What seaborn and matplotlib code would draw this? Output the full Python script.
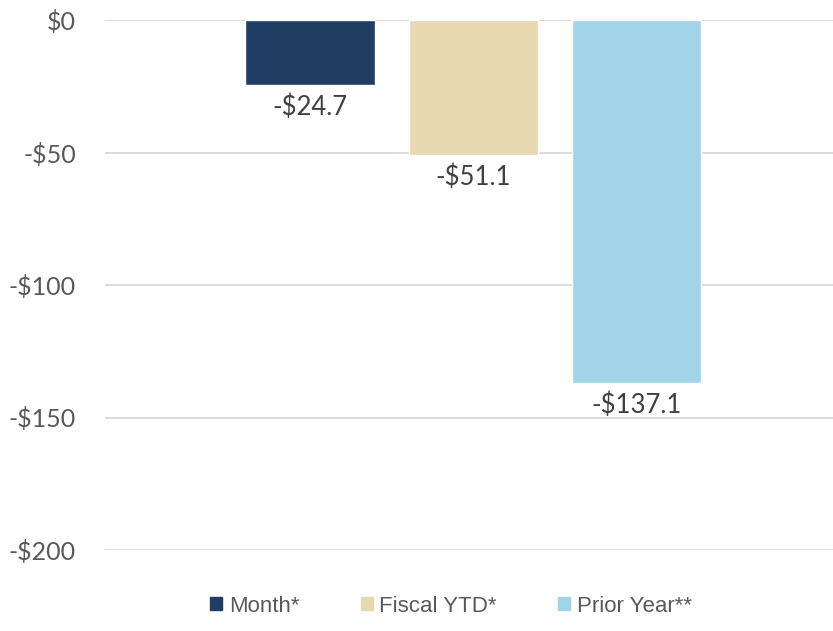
import matplotlib
matplotlib.use("Agg")
import matplotlib.pyplot as plt
import matplotlib.patches as mpatches
import pandas as pd
import seaborn as sns

# series shown as separate bars
labels = ["Month*", "Fiscal YTD*", "Prior Year**"]
values = [-24.7, -51.1, -137.1]
colors = ["#203D63", "#E8D8B0", "#A1D4E8"]
yticks = [0, -50, -100, -150, -200]

df = pd.DataFrame({"series": labels, "value": values})

sns.set_style("white")
plt.rcParams["font.family"] = ["Lato", "DejaVu Sans"]

fig = plt.figure(figsize=(8.33, 6.31), dpi=100)
ax = fig.add_axes([105 / 833, 1 - 550 / 631, 728 / 833, 530 / 631])

sns.barplot(data=df, x="series", y="value", hue="series", palette=colors,
            width=0.79, legend=False, ax=ax, saturation=1)

for i, v in enumerate(values):
    ax.text(i, v - 3.5, "-${:.1f}".format(abs(v)), ha="center", va="top",
            fontsize=18.5, color="#404040")

ax.set_ylim(-200, 0)
ax.set_xlim(-1.254, 3.2)
ax.set_yticks(yticks)
ax.set_yticklabels(["$0" if t == 0 else "-${}".format(abs(t)) for t in yticks])
ax.tick_params(axis="y", labelsize=18, labelcolor="#595959", length=0, pad=21)
ax.set_xticks([])
ax.set_xlabel("")
ax.set_ylabel("")
ax.yaxis.grid(True, color="#D9D9D9", linewidth=1.3)
ax.set_axisbelow(True)
for s in ax.spines.values():
    s.set_visible(False)

handles = [mpatches.Patch(color=c, label=l) for c, l in zip(colors, labels)]
leg = fig.legend(handles=handles, loc="center", bbox_to_anchor=(451 / 833, 1 - 606 / 631),
                 ncol=3, frameon=False, handlelength=0.55, handleheight=0.55,
                 handletextpad=0.3, columnspacing=2.75,
                 prop={"family": "Liberation Sans", "size": 16})
for t in leg.get_texts():
    t.set_color("#595959")

fig.savefig("out.png", dpi=100)
